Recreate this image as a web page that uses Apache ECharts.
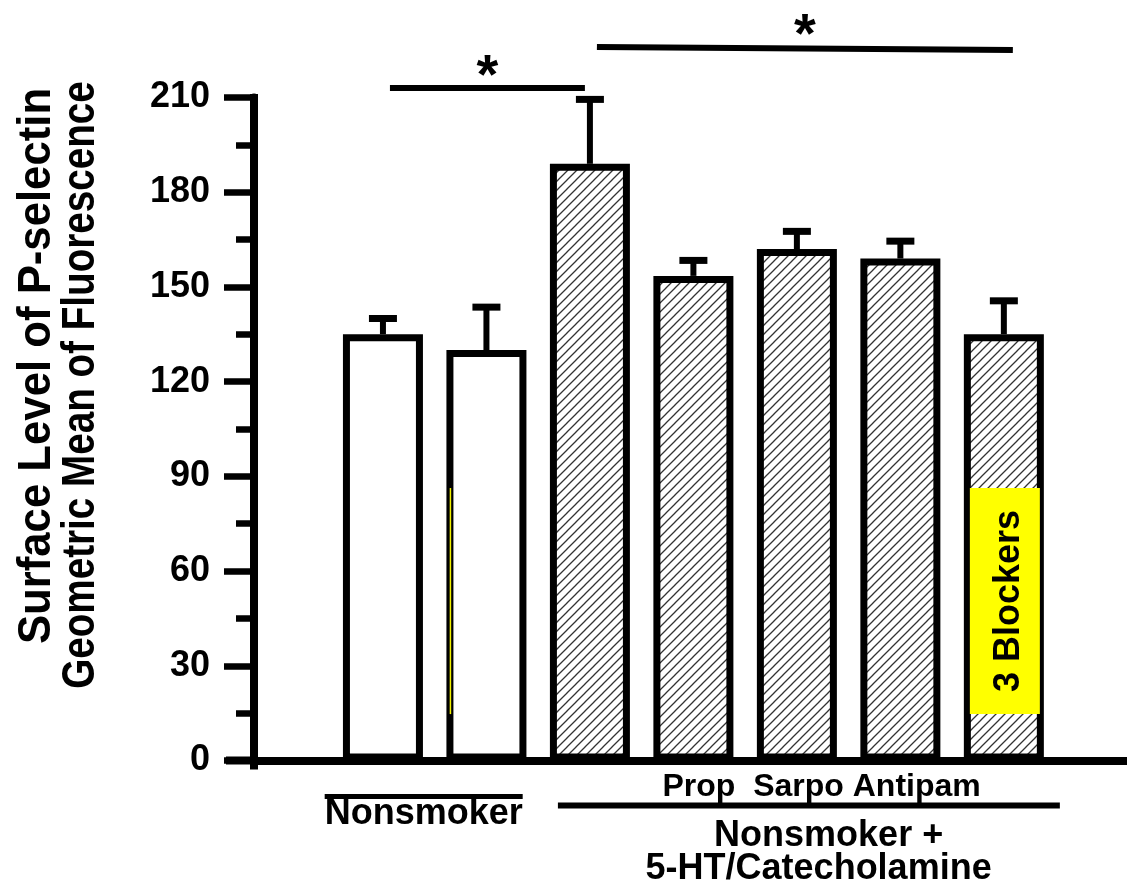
<!DOCTYPE html>
<html>
<head>
<meta charset="utf-8">
<script src="https://cdn.jsdelivr.net/npm/echarts@6/dist/echarts.min.js"></script>
<style>
  html, body { margin: 0; padding: 0; background: #ffffff; }
  #chart { width: 1127px; height: 882px; }
</style>
</head>
<body>
<div id="chart"></div>
<script>
// ---- values ----
const barNames = ['Nonsmoker', 'Nonsmoker', 'Nonsmoker + 5-HT/Catecholamine', 'Prop', 'Sarpo', 'Antipam', '3 Blockers'];
const meanValues = [135, 130, 189, 153.5, 162, 159, 135];
const semValues = [5, 13.6, 20.4, 4.9, 5.6, 5.5, 10.6];
const treated = [false, false, true, true, true, true, true];
const yMin = 0;
const yMax = 210;
const yStep = 30;
const yTitleLines = ['Surface Level of P-selectin', 'Geometric Mean of Fluorescence'];
const controlLabel = 'Nonsmoker';
const treatmentLabel = 'Prop  Sarpo Antipam';
const treatedGroupLines = ['Nonsmoker +', '5-HT/Catecholamine'];
const blockerLabel = '3 Blockers';
const significancePairs = [
  { from: 0, to: 2, text: '*' },
  { from: 2, to: 6, text: '*' }
];

// ---- layout ----
const FONT = "'Liberation Sans', Arial, Helvetica, sans-serif";
const gridLeft = 254, gridTop = 97.5, gridBottom = 121.5;
const xRange = [-1.246, 7.19];

function hatchTile() {
  const s = 9;
  const c = document.createElement('canvas');
  c.width = s; c.height = s;
  const g = c.getContext('2d');
  g.fillStyle = '#ffffff';
  g.fillRect(0, 0, s, s);
  g.strokeStyle = '#333333';
  g.lineWidth = 1.3;
  g.beginPath();
  g.moveTo(-1, s + 1); g.lineTo(s + 1, -1);
  g.moveTo(-2, 2); g.lineTo(2, -2);
  g.moveTo(s - 2, s + 2); g.lineTo(s + 2, s - 2);
  g.stroke();
  return c;
}
const hatch = { image: hatchTile(), repeat: 'repeat' };

const chart = echarts.init(document.getElementById('chart'), null, { renderer: 'canvas' });

const option = {
  animation: false,
  backgroundColor: '#ffffff',
  grid: { left: gridLeft, right: 0, top: gridTop, bottom: gridBottom, containLabel: false },
  xAxis: {
    type: 'value', min: xRange[0], max: xRange[1],
    axisLine: { show: true, onZero: false, lineStyle: { color: '#000', width: 8 } },
    axisTick: { show: false }, axisLabel: { show: false }, splitLine: { show: false }
  },
  yAxis: {
    type: 'value', min: yMin, max: yMax, interval: yStep,
    axisLine: { show: true, onZero: false, lineStyle: { color: '#000', width: 8 } },
    axisTick: { show: true, inside: false, length: 30, lineStyle: { color: '#000', width: 6.5 } },
    minorTick: { show: true, splitNumber: 2, length: 18, lineStyle: { color: '#000', width: 6.5 } },
    axisLabel: { margin: 44, color: '#000', fontFamily: FONT, fontWeight: 'bold', fontSize: 36 },
    splitLine: { show: false }
  },
  series: [
    {
      type: 'bar',
      barWidth: 80,
      z: 2,
      data: meanValues.map((v, i) => ({
        value: [i, v],
        name: barNames[i],
        itemStyle: { color: treated[i] ? hatch : '#ffffff' }
      })),
      itemStyle: { borderColor: '#000', borderWidth: 7 },
      emphasis: { disabled: true }
    },
    {
      type: 'custom',
      z: 3,
      clip: false,
      data: meanValues.map((v, i) => [i, v, semValues[i]]),
      renderItem: function (params, api) {
        const x = api.value(0), m = api.value(1), e = api.value(2);
        const base = api.coord([x, m]);
        const top = api.coord([x, m + e]);
        return {
          type: 'group',
          children: [
            { type: 'line', shape: { x1: base[0], y1: base[1], x2: base[0], y2: top[1] },
              style: { stroke: '#000', lineWidth: 6 } },
            { type: 'line', shape: { x1: base[0] - 14, y1: top[1], x2: base[0] + 14, y2: top[1] },
              style: { stroke: '#000', lineWidth: 7 } }
          ]
        };
      }
    }
  ]
};
chart.setOption(option);

// ---- annotations placed through the axes ----
function px(x, y) { return chart.convertToPixel({ xAxisIndex: 0, yAxisIndex: 0 }, [x, y]); }
const origin = px(xRange[0], yMin);
const topLeft = px(xRange[0], yMax);

function textEl(str, x, y, size, opts) {
  opts = opts || {};
  return {
    type: 'text', x: x, y: y, rotation: opts.rotation || 0, z: 10,
    scaleX: opts.scaleX || 1,
    style: {
      text: str, fill: '#000', fontFamily: FONT, fontWeight: opts.weight || 'bold', fontSize: size,
      align: 'center', verticalAlign: 'middle', textAlign: 'center', textVerticalAlign: 'middle'
    }
  };
}
function lineEl(x1, y1, x2, y2, w, color) {
  return { type: 'line', z: 10, shape: { x1: x1, y1: y1, x2: x2, y2: y2 },
    style: { stroke: color || '#000', lineWidth: w } };
}

const elements = [];
// axis line ends: below the baseline and left of the value axis
elements.push(lineEl(origin[0], topLeft[1] - 3.5, origin[0], origin[1] + 9, 8));
elements.push(lineEl(origin[0] - 28, origin[1], origin[0], origin[1], 8));

// significance brackets
const bracketY = [88, 47];
const bracketEndY = [88, 50];
const bracketPad = [[7, -5], [7, 9]];
significancePairs.forEach((p, k) => {
  const a = px(p.from, 0), b = px(p.to, 0);
  const x1 = a[0] + bracketPad[k][0], x2 = b[0] + bracketPad[k][1];
  elements.push(lineEl(x1, bracketY[k], x2, bracketEndY[k], 6));
  elements.push(textEl(p.text, (x1 + x2) / 2, bracketY[k] - 10, 56));
});

// highlighted box inside the last bar
const last = meanValues.length - 1;
const boxTop = px(last, 86.3), boxBottom = px(last, 14.7);
elements.push({
  type: 'rect', z: 9,
  shape: { x: boxTop[0] - 34, y: boxTop[1], width: 70, height: boxBottom[1] - boxTop[1] },
  style: { fill: '#ffff00' }
});
elements.push(textEl(blockerLabel, boxTop[0] + 5, (boxTop[1] + boxBottom[1]) / 2, 36, { rotation: Math.PI / 2 }));
// thin yellow stroke along the second bar
const b2 = px(1, 86.3), b2b = px(1, 14.7);
elements.push(lineEl(b2[0] - 36, b2[1], b2[0] - 36, b2b[1], 1.5, '#f2f200'));

// group labels beneath the axis
const c0 = px(0, 0), c1 = px(1, 0);
const ctrlCenter = (c0[0] + c1[0]) / 2 - 11;
elements.push(lineEl(ctrlCenter - 99, origin[1] + 36, ctrlCenter + 99, origin[1] + 36, 5));
elements.push(textEl(controlLabel, ctrlCenter, origin[1] + 54, 36));

const t3 = px(3, 0), t6 = px(6, 0);
elements.push(textEl(treatmentLabel, (t3[0] + t6[0]) / 2 - 27, origin[1] + 27, 32));
elements.push(lineEl(px(2, 0)[0] - 32, origin[1] + 45, t6[0] + 56, origin[1] + 45, 6));
elements.push(textEl(treatedGroupLines[0], (t3[0] + t6[0]) / 2 - 20, origin[1] + 76, 36));
elements.push(textEl(treatedGroupLines[1], (t3[0] + t6[0]) / 2 - 30, origin[1] + 109, 36));

// value axis title, two rotated lines set in a tall, narrow face
elements.push(textEl(yTitleLines[0], 37, 366, 46, { rotation: Math.PI / 2, scaleX: 0.95 }));
elements.push(textEl(yTitleLines[1], 81, 385, 46, { rotation: Math.PI / 2, scaleX: 0.84 }));

chart.setOption({ graphic: { elements: elements } });
</script>
</body>
</html>
